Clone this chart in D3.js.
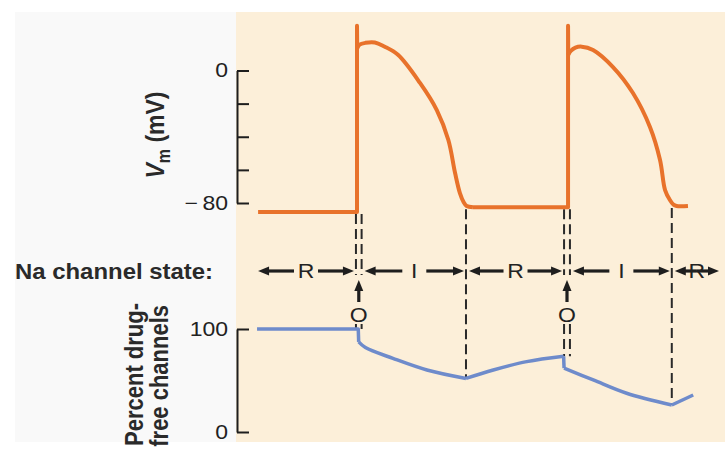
<!DOCTYPE html>
<html><head><meta charset="utf-8">
<script src="https://cdn.jsdelivr.net/npm/d3@7"></script>
<style>body{margin:0;background:#fff}svg{display:block}</style>
</head><body>
<svg id="c" width="725" height="458"></svg>
<script>
// ---------- data ----------
const vmTickValues = [0, -20, -40, -60, -80];
const vmTickLabels = [0, -80];
const pctTickValues = [0, 100];

// membrane potential trace: [time ms, mV]
const vmRest1   = [[-471,-85.5],[0,-85.5],[0,27],[1,13.4]];
const vmAP1     = [[1,13.4],[12,15.6],[40,16.7],[85,16.9],[130,14.5],[195,9.5],[300,-7.5],[380,-23.9],[435,-42],[467,-61.9],[490,-74],[508,-79.5],[522,-81.8],[552,-82.6]];
const vmRest2   = [[552,-82.6],[1005,-82.6],[1005,27],[1006,9.4]];
const vmAP2     = [[1006,9.4],[1018,11.8],[1040,13.8],[1070,14.4],[1124,12.4],[1219,2.1],[1314,-13.6],[1395,-34.1],[1443,-54],[1467,-72.2],[1490,-78.2],[1507,-81],[1522,-81.8],[1576,-81.8]];

// percent drug-free channels: [time ms, %]
const pctStep1    = [[-476,100],[6,100],[8,87.5]];
const pctDecay1   = [[8,87.5],[40,82],[171,71.5],[333,60.2],[519,52]];
const pctRecover1 = [[519,52],[649,60.2],[808,68.3],[984,73.5]];
const pctStep2    = [[984,73.5],[986,62]];
const pctDecay2   = [[986,62],[1125,50.5],[1284,37.6],[1499,26.2]];
const pctRecover2 = [[1499,26.2],[1601,35.9]];

// channel states
const stateLabels = ["R","I","R","I","R"];
const stateStart  = [-471, 22, 519, 1014, 1499];
const stateEnd    = [-5, 519, 986, 1499, 1738];

// markers
const openPairs     = [[-5,22],[986,1014]];
const openVmTop     = [-85.5,-82.6];
const openPctBottom = [100,73.5];
const repolTimes    = [519,1499];
const repolVmTop    = [-82.6,-81.8];
const repolPctBot   = [52,26.2];

// ---------- layout ----------
const svg = d3.select("#c");
const FONT = "'Liberation Sans', Arial, Helvetica, sans-serif";
const ORANGE = "#e8722b", BLUE = "#6e8bcb", INK = "#1e1e1e", BEIGE = "#fcefd9";
const SX = 1.15; // horizontal glyph stretch seen in the reference

const x  = d3.scaleLinear().domain([0,1000]).range([357,567]);
const yV = d3.scaleLinear().domain([-80,0]).range([203,70.5]);
const yP = d3.scaleLinear().domain([0,100]).range([432,329]);
const rowY = 271;

svg.append("rect").attr("x",15).attr("y",12).attr("width",221).attr("height",430).attr("fill","#f9f9f9");
svg.append("rect").attr("x",236).attr("y",12).attr("width",489).attr("height",430).attr("fill",BEIGE);

// axes
function styleAxis(g){
  g.select(".domain").attr("stroke",INK).attr("stroke-width",2);
  g.selectAll(".tick line").attr("stroke",INK).attr("stroke-width",2);
  g.selectAll(".tick text").attr("fill","#222").style("font-family",FONT).style("font-size","20px")
    .attr("transform",`scale(${SX},1)`).attr("x",-9/SX);
}
const axV = d3.axisLeft(yV).tickValues(vmTickValues).tickSize(-12).tickSizeOuter(0).tickPadding(9)
  .tickFormat(d => vmTickLabels.includes(d) ? (d<0 ? "\u2212\u2009" + Math.abs(d) : String(d)) : "");
svg.append("g").attr("transform","translate(237,0)").call(axV).call(styleAxis);
const axP = d3.axisLeft(yP).tickValues(pctTickValues).tickSize(-12).tickSizeOuter(0).tickPadding(9);
svg.append("g").attr("transform","translate(237,0)").call(axP).call(styleAxis);

// axis titles
const vl = svg.append("text").attr("transform",`translate(164,135) scale(${SX},1) rotate(-90)`)
  .attr("text-anchor","middle").style("font-family",FONT).style("font-size","23px").style("font-weight","bold").attr("fill","#2a2a2a");
vl.append("tspan").text("V").style("font-style","italic");
vl.append("tspan").text("m").attr("dy",5).style("font-size","16px");
vl.append("tspan").text(" (mV)").attr("dy",-5);

svg.append("text").attr("transform",`translate(143,303) scale(${SX},1) rotate(-90)`).attr("text-anchor","end")
  .style("font-family",FONT).style("font-size","22px").style("font-weight","bold").attr("fill","#2a2a2a").text("Percent drug-");
svg.append("text").attr("transform",`translate(168,305) scale(${SX},1) rotate(-90)`).attr("text-anchor","end")
  .style("font-family",FONT).style("font-size","22px").style("font-weight","bold").attr("fill","#2a2a2a").text("free channels");

svg.append("text").attr("x",15).attr("y",279).attr("textLength",198).attr("lengthAdjust","spacingAndGlyphs")
  .style("font-family",FONT).style("font-size","22px").style("font-weight","bold").attr("fill","#2a2a2a").text("Na channel state:");

// dashed markers
const dash = "10,5";
function vline(xp,y1,y2){
  svg.append("line").attr("x1",xp).attr("x2",xp).attr("y1",y1).attr("y2",y2)
    .attr("stroke","#2a2a2a").attr("stroke-width",2).attr("stroke-dasharray",dash);
}
openPairs.forEach((pair,i)=>{
  pair.forEach(t=>{
    vline(x(t), yV(openVmTop[i])+2, rowY+4);
    vline(x(t), 324, yP(openPctBottom[i]));
  });
});
repolTimes.forEach((t,i)=> vline(x(t), yV(repolVmTop[i])+2, yP(repolPctBot[i])));

// traces
const lin = d3.line().x(d=>x(d[0])).y(d=>d[1]);
const smooth = d3.line().x(d=>x(d[0])).y(d=>d[1]).curve(d3.curveCatmullRom.alpha(0.5));
function trace(data, yS, gen, color, w){
  svg.append("path").datum(data.map(d=>[d[0], yS(d[1])])).attr("d", gen)
    .attr("fill","none").attr("stroke",color).attr("stroke-width",w)
    .attr("stroke-linejoin","round").attr("stroke-linecap","butt");
}
trace(pctStep1, yP, lin, BLUE, 3.5);
trace(pctDecay1, yP, smooth, BLUE, 3.5);
trace(pctRecover1, yP, smooth, BLUE, 3.5);
trace(pctStep2, yP, lin, BLUE, 3.5);
trace(pctDecay2, yP, smooth, BLUE, 3.5);
trace(pctRecover2, yP, lin, BLUE, 3.5);

trace(vmRest1, yV, lin, ORANGE, 4);
trace(vmAP1, yV, smooth, ORANGE, 4);
trace(vmRest2, yV, lin, ORANGE, 4);
trace(vmAP2, yV, smooth, ORANGE, 4);

// state arrows
function head(tipX, tipY, dir){ // dir: -1 left, 1 right, 'up'
  let pts;
  if (dir==='up') pts = [[tipX,tipY],[tipX-4.5,tipY+11],[tipX+4.5,tipY+11]];
  else pts = [[tipX,tipY],[tipX-dir*11,tipY-4.5],[tipX-dir*11,tipY+4.5]];
  svg.append("polygon").attr("points",pts.map(p=>p.join(",")).join(" ")).attr("fill",INK);
}
function seg(x1,x2,y){
  if (x2<=x1) return;
  svg.append("line").attr("x1",x1).attr("x2",x2).attr("y1",y).attr("y2",y).attr("stroke",INK).attr("stroke-width",3.2);
}
function label(txt, cx, by, size){
  svg.append("text").attr("transform",`translate(${cx},${by}) scale(${SX},1)`).attr("text-anchor","middle")
    .style("font-family",FONT).style("font-size",size+"px").attr("fill","#222").text(txt);
}
stateLabels.forEach((lab,i)=>{
  const a = x(stateStart[i]) + (i===0?0:3);
  const b = x(stateEnd[i]) - (i===stateLabels.length-1?3:2);
  const mid = (a+b)/2;
  const gap = (b-a) > 70 ? 12 : 0;
  seg(a+6, mid-gap, rowY);
  seg(mid+gap, b-6, rowY);
  head(a, rowY, -1);
  head(b, rowY, 1);
  label(lab, mid, rowY+7, 20);
});

// open-state markers
openPairs.forEach((pair,i)=>{
  const cx = (x(pair[0])+x(pair[1]))/2;
  svg.append("line").attr("x1",cx).attr("x2",cx).attr("y1",302).attr("y2",288).attr("stroke",INK).attr("stroke-width",3.2);
  head(cx, 280, 'up');
  label("O", cx, 322, 20);
});
</script>
</body></html>
